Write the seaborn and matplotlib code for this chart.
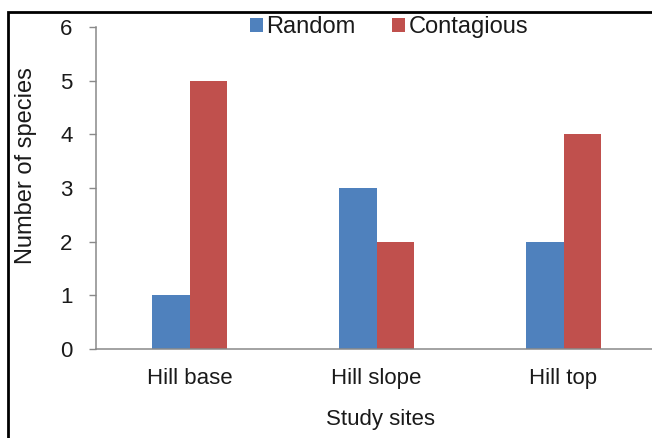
import matplotlib
matplotlib.use("Agg")
import matplotlib.pyplot as plt
import seaborn as sns
import pandas as pd
from matplotlib.patches import Rectangle, Patch

sites = ["Hill base", "Hill slope", "Hill top"]
series = ["Random", "Contagious"]
random_vals = [1, 3, 2]
contagious_vals = [5, 2, 4]
yticks = [0, 1, 2, 3, 4, 5, 6]
colors = ["#4F81BD", "#C0504D"]

df = pd.DataFrame({
    "site": sites * 2,
    "type": [series[0]] * 3 + [series[1]] * 3,
    "value": random_vals + contagious_vals,
})

sns.set_style("white")
plt.rcParams["font.family"] = ["Liberation Sans", "DejaVu Sans"]

W, H = 652, 438
fig = plt.figure(figsize=(W / 100, H / 100), dpi=100)
left, right, top, bottom = 96, 657, 27, 349
ax = fig.add_axes([left / W, 1 - bottom / H, (right - left) / W, (bottom - top) / H])

sns.barplot(data=df, x="site", y="value", hue="type", order=sites, hue_order=series,
            palette=colors, width=0.40, ax=ax, legend=False, saturation=1,
            edgecolor="none")

ax.set_ylim(0, 6)
ax.set_yticks(yticks)
ax.set_xlim(-0.5, 2.5)
ax.tick_params(axis="y", length=5, width=1, color="#898989", labelsize=16, pad=12,
               left=True, direction="out", labelcolor="#1a1a1a")
ax.tick_params(axis="x", length=0, labelsize=16, pad=14, labelcolor="#1a1a1a")
for s in ["top", "right"]:
    ax.spines[s].set_visible(False)
for s in ["left", "bottom"]:
    ax.spines[s].set_color("#898989")
    ax.spines[s].set_linewidth(1.1)
ax.set_xlabel("")
ax.set_ylabel("")

fig.text(381 / W, 1 - 425 / H, "Study sites", ha="center", va="baseline",
         fontsize=16, color="#1a1a1a")
fig.text(26 / W, 1 - 166 / H, "Number of species", ha="center", va="center",
         rotation=90, fontsize=17, color="#1a1a1a")

handles = [Patch(facecolor=c, edgecolor="none", label=l) for c, l in zip(colors, series)]
leg = fig.legend(handles=handles, loc="center", bbox_to_anchor=(389 / W, 1 - 27 / H), ncol=2,
                 frameon=False, fontsize=17, handlelength=0.55, handleheight=0.55,
                 handletextpad=0.15, columnspacing=1.55)
for t in leg.get_texts():
    t.set_color("#1a1a1a")

fig.patches.append(Rectangle((8 / W, -0.05), 1.2, (1 - 12 / H) + 0.05, transform=fig.transFigure,
                             fill=False, edgecolor="black", linewidth=2))

fig.savefig("out.png", dpi=100)
